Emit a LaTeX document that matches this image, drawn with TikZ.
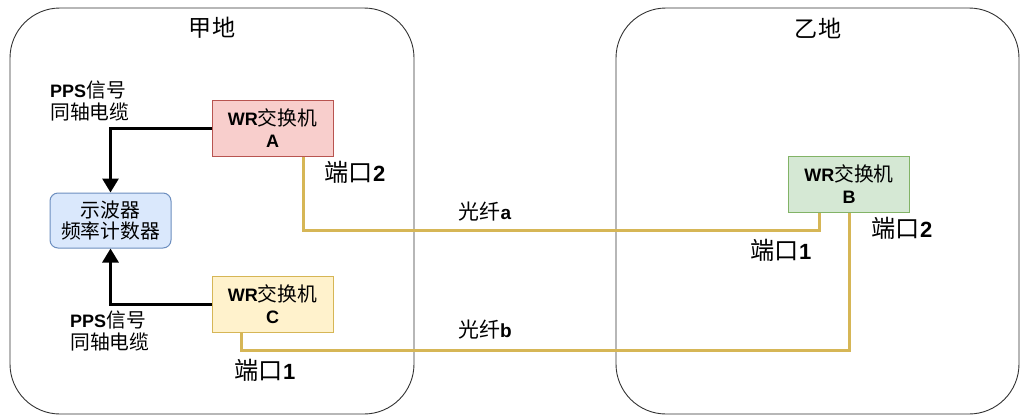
\documentclass[tikz,border=0pt]{standalone}
\usepackage{fontspec}
\setmainfont{Liberation Sans}
\newfontfamily\cjkf{Noto Sans CJK SC}[Scale=1.1]
\usetikzlibrary{arrows.meta}
\definecolor{redF}{HTML}{F8CECC}\definecolor{redD}{HTML}{B85450}
\definecolor{yelF}{HTML}{FFF2CC}\definecolor{yelD}{HTML}{D6B656}
\definecolor{grnF}{HTML}{D5E8D4}\definecolor{grnD}{HTML}{82B366}
\definecolor{bluF}{HTML}{DAE8FC}\definecolor{bluD}{HTML}{6C8EBF}
\definecolor{fib}{HTML}{D6B656}
\newcommand{\zh}[1]{{\cjkf #1}}
\begin{document}
\begin{tikzpicture}[x=1pt,y=-1pt,
  region/.style={draw=black!80,line width=0.9pt,rounded corners=50pt},
  sw/.style={draw=#1,line width=1pt,minimum width=121pt,minimum height=56pt,inner sep=0pt,
    align=center,font=\fontsize{18}{22}\selectfont\bfseries},
  scopebox/.style={draw=bluD,fill=bluF,line width=1pt,rounded corners=8pt,minimum width=121pt,
    minimum height=55pt,inner sep=0pt,align=center,font=\fontsize{18}{21.5}\selectfont},
  arr/.style={line width=3pt,-{Triangle[width=16pt,length=14pt]}},
  fiber/.style={draw=fib,line width=3pt},
  lbl/.style={inner sep=0pt,font=\fontsize{18}{22}\selectfont},
  big/.style={inner sep=0pt,font=\fontsize{22}{26}\selectfont\bfseries},
  ttl/.style={inner sep=0pt,font=\fontsize{21}{26}\selectfont}]
\useasboundingbox (0,0) rectangle (1020,416);
\fill[white] (0,0) rectangle (1020,416);
% regions
\draw[region] (10,8) rectangle (414,414);
\draw[region] (616,8) rectangle (1019,414);
\node[ttl] (t1) at (212,28) {\zh{甲地}};
\node[ttl] (t2) at (818,28) {\zh{乙地}};
% nodes
\node[sw=redD,fill=redF] (A) at (272.5,128) {WR\zh{\mdseries 交换机}\\A};
\node[sw=yelD,fill=yelF] (C) at (272.5,304) {WR\zh{\mdseries 交换机}\\C};
\node[sw=grnD,fill=grnF] (B) at (849,184) {WR\zh{\mdseries 交换机}\\B};
\node[scopebox] (S) at (110.5,220.5) {\zh{示波器}\\\zh{频率计数器}};
% arrows
\draw[arr] (A.west) -| (S.north);
\draw[arr] (C.west) -| (S.south);
% fibers
\coordinate (fa) at (560,230);
\coordinate (fb) at (560,350);
\draw[fiber] ([xshift=30.5pt]A.south) |- (fa) -| ([xshift=-30pt]B.south);
\draw[fiber] ([xshift=-31.5pt]C.south) |- (fb) -| (B.south);
% labels
\node[lbl,align=left,anchor=west] (p1) at (50,101) {\textbf{PPS}\zh{信号}\\\zh{同轴电缆}};
\node[lbl,align=left,anchor=west] (p2) at (70,331) {\textbf{PPS}\zh{信号}\\\zh{同轴电缆}};
\node[big] (pA) at (355,172) {\zh{\mdseries 端口}2};
\node[big] (pC) at (265,370) {\zh{\mdseries 端口}1};
\node[big] (pB1) at (781,250) {\zh{\mdseries 端口}1};
\node[big] (pB2) at (902,228) {\zh{\mdseries 端口}2};
\node[lbl,font=\fontsize{19}{22}\selectfont\bfseries] (fa-l) at (485,212) {\zh{\mdseries 光纤}a};
\node[lbl,font=\fontsize{19}{22}\selectfont\bfseries] (fb-l) at (485,330) {\zh{\mdseries 光纤}b};
\end{tikzpicture}
\end{document}
